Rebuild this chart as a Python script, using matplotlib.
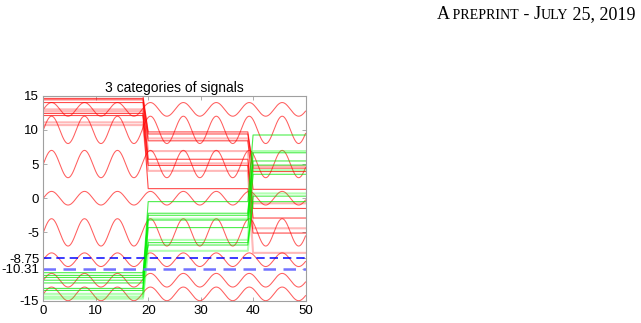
import numpy as np
import matplotlib
matplotlib.use("Agg")
import matplotlib.pyplot as plt

# sine "background" signals: offset and amplitude
sine_offsets = [13, 10, 5, 0, -5, -9, -12, -14]
sine_amps = [1, 2, 2, 1, 2, 1, 1, 1]

# step signals: level in segment 1 (x<=19), 2 (20..39), 3 (40..50)
red_seg1 = [15.0, 14.6, 14.4, 14.0, 12.4, 12.1, 13.0, 12.7, 11.1, 10.7]
red_seg2 = [9.7, 9.4, 8.4, 5.7, 4.8, 1.4, 8.75, 6.9, 5.1, 4.0]
red_seg3 = [4.4, 3.9, 1.3, -1.5, -2.9, -5.1, 4.7, -0.75, -4.4, -8.0]
red_light = [0, 0, 0, 0, 0, 0, 1, 1, 1, 1]

green_seg1 = [-11.3, -11.6, -12.0, -13.2, -13.5, -12.4, -10.9, -14.0, -14.4, -14.7]
green_seg2 = [-0.5, -2.2, -2.5, -3.2, -4.3, -6.5, -6.85, -3.0, -6.1, -7.7]
green_seg3 = [9.25, 6.65, 5.45, 4.85, 3.5, 0.3, -0.5, 6.9, 4.1, 0.7]
green_light = [0, 0, 0, 0, 0, 0, 0, 1, 1, 1]

thresholds = [-8.75, -10.31]
ytick_vals = [-15, -10.31, -8.75, -5, 0, 5, 10, 15]
ytick_labels = ["-15", "-10.31", "-8.75", "-5", "0", "5", "10", "15"]
xtick_vals = [0, 10, 20, 30, 40, 50]

plt.rcParams['font.family'] = ['Liberation Sans', 'DejaVu Sans']

fig = plt.figure(figsize=(6.41, 3.23), dpi=100)
ax = fig.add_axes([0.0676, 0.069, 0.409, 0.6347])

xs = np.linspace(0, 50, 1000)
for off, amp in zip(sine_offsets, sine_amps):
    ax.plot(xs, off + amp * np.sin(xs), color=(1, 0.3, 0.3), lw=0.75, alpha=0.9)

xi = np.arange(0, 51)


def step(a, b, c):
    return np.where(xi <= 19, a, np.where(xi <= 39, b, c))


for a, b, c, l in zip(red_seg1, red_seg2, red_seg3, red_light):
    if l:
        ax.plot(xi, step(a, b, c), color='red', lw=1.5, alpha=0.28)
    else:
        ax.plot(xi, step(a, b, c), color='red', lw=0.8, alpha=0.7)

for a, b, c, l in zip(green_seg1, green_seg2, green_seg3, green_light):
    if l:
        ax.plot(xi, step(a, b, c), color=(0, 1, 0), lw=1.5, alpha=0.3)
    else:
        ax.plot(xi, step(a, b, c), color=(0, 0.9, 0), lw=0.8, alpha=0.7)

ax.axhline(thresholds[0], color='blue', lw=1.2, dashes=(5, 3), alpha=0.9)
ax.axhline(thresholds[1], color=(0.45, 0.45, 1), lw=1.8, dashes=(5, 3))

ax.set_xlim(0, 50)
ax.set_ylim(-15, 15)
ax.set_xticks(xtick_vals)
ax.set_xticklabels([str(v) for v in xtick_vals])
ax.set_yticks(ytick_vals)
ax.set_yticklabels(ytick_labels)
ax.tick_params(direction='in', top=True, right=True, length=3, width=0.6,
               color='#a0a0a0', labelsize=9.5, pad=3)
for s in ax.spines.values():
    s.set_color('#a0a0a0')
    s.set_linewidth(0.8)
ax.set_title("3 categories of signals", fontsize=10, pad=3)

# header in small caps
parts = [("A", 13), (" PREPRINT", 10.1), (" - ", 13), ("J", 13), ("ULY", 10.1), (" 25, 2019", 13)]
renderer = fig.canvas.get_renderer()
texts = []
x = 0
for s, size in parts:
    t = fig.text(x, 0, s, fontsize=size, family='Liberation Serif', va='baseline')
    w = t.get_window_extent(renderer).width
    texts.append((t, x))
    x += w
right = 636
for t, x0 in texts:
    t.set_position(((right - x + x0) / 641, 1 - 19 / 323))

fig.savefig("out.png", dpi=100)
